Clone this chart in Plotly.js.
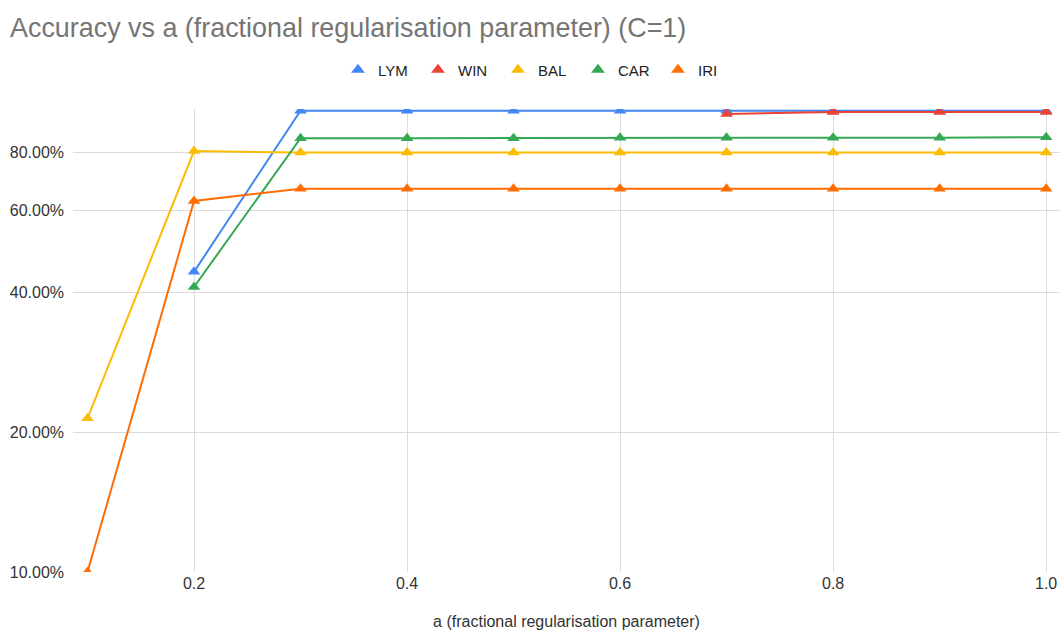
<!DOCTYPE html>
<html>
<head>
<meta charset="utf-8">
<script src="https://cdn.plot.ly/plotly-3.0.1.min.js"></script>
<style>html,body{margin:0;padding:0;background:#fff;}#chart{width:1064px;height:639px;}</style>
</head>
<body>
<div id="chart"></div>
<script>
var aValues = [0.1, 0.2, 0.3, 0.4, 0.5, 0.6, 0.7, 0.8, 0.9, 1.0];
var LYM = [null, 0.442, 0.982, 0.982, 0.982, 0.982, 0.982, 0.982, 0.982, 0.982];
var WIN = [null, null, null, null, null, null, 0.966, 0.976, 0.976, 0.976];
var BAL = [0.214, 0.804, 0.798, 0.798, 0.798, 0.798, 0.798, 0.798, 0.798, 0.798];
var CAR = [null, 0.410, 0.857, 0.857, 0.857, 0.859, 0.859, 0.859, 0.859, 0.861];
var IRI = [0.100, 0.628, 0.667, 0.667, 0.667, 0.667, 0.667, 0.667, 0.667, 0.667];

var seriesNames = ['LYM', 'WIN', 'BAL', 'CAR', 'IRI'];
var seriesData = [LYM, WIN, BAL, CAR, IRI];
var seriesColors = ['#4285F4', '#EA4335', '#FBBC04', '#34A853', '#FF6D01'];

var yTickVals = [0.1, 0.2, 0.4, 0.6, 0.8];
var yTickText = ['10.00%', '20.00%', '40.00%', '60.00%', '80.00%'];
var xTickVals = [0.2, 0.4, 0.6, 0.8, 1.0];
var xTickText = ['0.2', '0.4', '0.6', '0.8', '1.0'];

var font = 'Arial, "Liberation Sans", Helvetica, sans-serif';
var traces = [];
for (var i = 0; i < seriesNames.length; i++) {
  traces.push({
    x: aValues, y: seriesData[i], name: seriesNames[i],
    type: 'scatter', mode: 'lines+markers',
    line: {color: seriesColors[i], width: 2},
    marker: {symbol: 'triangle-up', size: 11, color: seriesColors[i]},
    connectgaps: false, showlegend: false, cliponaxis: true, hoverinfo: 'x+y+name'
  });
}
for (var j = 0; j < seriesNames.length; j++) {
  traces.push({
    x: [null], y: [null], name: seriesNames[j], type: 'scatter', mode: 'markers',
    marker: {symbol: 'triangle-up', size: 12, color: seriesColors[j]},
    showlegend: true
  });
}

var layout = {
  width: 1064, height: 639,
  margin: {l: 73, r: 4, t: 109, b: 67},
  paper_bgcolor: '#ffffff', plot_bgcolor: '#ffffff',
  font: {family: font, color: '#444444', size: 15},
  title: {
    text: 'Accuracy vs a (fractional regularisation parameter) (C=1)',
    x: 10 / 1064, xref: 'container', xanchor: 'left',
    y: 1 - 28 / 639, yref: 'container', yanchor: 'middle',
    font: {family: font, size: 26.9, color: '#757575'}
  },
  legend: {
    orientation: 'h', xref: 'container', yref: 'container',
    x: 538 / 1064, xanchor: 'center', y: 1 - 70 / 639, yanchor: 'middle',
    font: {family: font, size: 15, color: '#222222'},
    itemwidth: 30, entrywidth: 35, entrywidthmode: 'pixels',
    tracegroupgap: 0, bgcolor: 'rgba(0,0,0,0)'
  },
  xaxis: {
    range: [0.0864, 1.013],
    tickvals: xTickVals, ticktext: xTickText,
    showgrid: true, gridcolor: '#dcdcdc', gridwidth: 1,
    zeroline: false, showline: false, ticks: '',
    tickfont: {family: font, size: 16, color: '#333333'},
    title: {text: 'a (fractional regularisation parameter)', font: {family: font, size: 16, color: '#333333'}, standoff: 24}
  },
  yaxis: {
    type: 'log',
    range: [-1, Math.log10(0.99)],
    tickvals: yTickVals, ticktext: yTickText,
    showgrid: true, gridcolor: '#dcdcdc', gridwidth: 1,
    zeroline: false, showline: false, ticks: '', ticklabelstandoff: 8,
    tickfont: {family: font, size: 16, color: '#333333'}
  },
  showlegend: true
};

Plotly.newPlot('chart', traces, layout, {displayModeBar: false, staticPlot: true});
</script>
</body>
</html>
